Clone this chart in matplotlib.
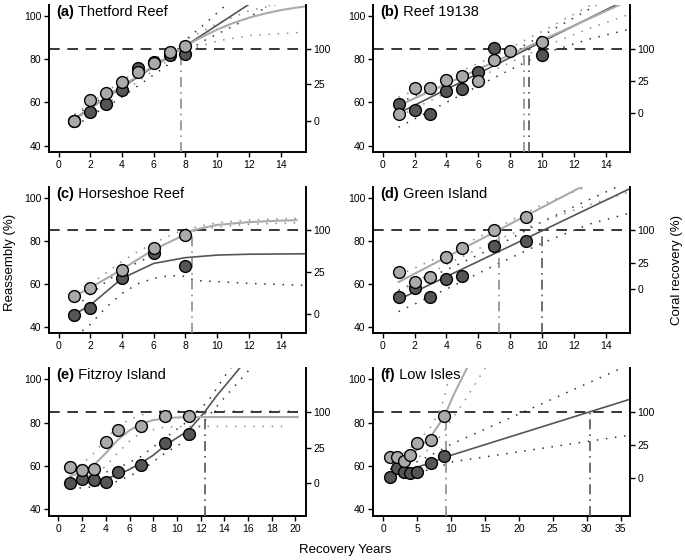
import matplotlib
matplotlib.use('Agg')
import matplotlib.pyplot as plt

plt.rcParams['font.family'] = ['Liberation Sans', 'DejaVu Sans']

DARK = '#555555'
LIGHT = '#aaaaaa'
threshold = 85          # reassembly level matching 100 % coral recovery
right_labels = ['0', '25', '100']

# (a) Thetford Reef
a_years = [1, 2, 3, 4, 5, 6, 7, 8]
a_dark = [51.5, 55.7, 59.4, 65.7, 76.0, 78.8, 81.9, 82.3]
a_light = [51.5, 61.1, 64.6, 69.4, 74.0, 78.5, 83.4, 86.1]
a_dark_fit_x = [1, 12]
a_dark_fit_y = [52.5, 105.5]
a_light_fit_x = [1, 4, 7.7, 9, 10, 11, 12, 13, 14, 15, 15.6]
a_light_fit_y = [52, 67.5, 85, 90.2, 93.8, 96.8, 99.3, 101.2, 102.8, 104, 104.6]
a_dark_up_x = [1, 4, 7, 9, 10.6]
a_dark_up_y = [54, 67.5, 83, 95, 105.5]
a_dark_lo_x = [1, 4, 7, 9, 11.3, 13.3]
a_dark_lo_y = [49, 62.5, 78, 88, 96.5, 105]
a_light_up_x = [1, 4, 7, 8, 10, 12, 13.8]
a_light_up_y = [54.5, 70, 84.5, 89, 96.5, 102.5, 105.5]
a_light_lo_x = [1, 4, 7, 8, 10, 12, 15.5]
a_light_lo_y = [48.5, 64.5, 80, 84, 88.5, 91, 92.6]
a_cross = [7.72, None]          # (light, dark) crossing years
a_right = [51.5, 68.5, 85]

# (b) Reef 19138
b_years_light = [1, 2, 3, 4, 5, 6, 7, 8, 10]
b_light = [54.6, 66.5, 66.8, 70.3, 72.2, 69.9, 79.5, 83.7, 88.2]
b_years_dark = [1, 2, 3, 4, 5, 6, 7, 10]
b_dark = [59.2, 56.4, 54.6, 65.4, 66.0, 74.2, 85.2, 81.9]
b_dark_fit_x = [1, 15.5]
b_dark_fit_y = [55, 108.5]
b_light_fit_x = [1, 15.5]
b_light_fit_y = [58.5, 107.5]
b_dark_up_x = [1, 4, 7, 10, 13, 13.4]
b_dark_up_y = [60, 68.5, 79, 91, 103.5, 105]
b_dark_lo_x = [1, 4, 7, 10, 13, 15.5]
b_dark_lo_y = [48.5, 60, 71.5, 82.5, 89.5, 94]
b_light_up_x = [1, 4, 7, 10, 12.5, 13]
b_light_up_y = [62.5, 71.5, 81.5, 93, 103, 105]
b_light_lo_x = [1, 4, 7, 10, 13, 15.5]
b_light_lo_y = [53.5, 64.5, 75, 85.5, 94.5, 101]
b_cross = [8.85, 9.2]
b_right = [55, 69.9, 85]

# (c) Horseshoe Reef
c_years = [1, 2, 4, 6, 8]
c_light = [54.2, 58.2, 66.6, 76.6, 82.6]
c_dark = [45.6, 48.6, 62.7, 74.2, 68.4]
c_dark_fit_x = [1, 2, 4, 6, 8, 10, 12, 15.6]
c_dark_fit_y = [45.7, 50, 62.5, 69.5, 72.2, 73.4, 73.8, 74]
c_light_fit_x = [1, 2, 4, 6, 8, 8.44, 10, 12, 14, 15]
c_light_fit_y = [54.2, 58.1, 66.7, 76, 83, 85, 87.5, 88.8, 89.5, 89.7]
c_dark_up_x = [1.5, 3, 4, 5, 6.2]
c_dark_up_y = [52, 61, 66, 70, 74]
c_dark_lo_x = [1.5, 2, 3, 4, 5, 6, 7, 8, 8.6, 10, 12, 15.6]
c_dark_lo_y = [38, 41, 49, 55.5, 60, 62.5, 63.8, 63.5, 61.5, 61, 60.2, 59.2]
c_light_up_x = [2, 3, 4, 5, 6, 7, 8, 10, 12, 14, 15.3]
c_light_up_y = [60, 65, 70.5, 75, 79, 82.5, 85.5, 88.5, 89.8, 90.4, 90.5]
c_light_lo_x = [8.5, 10, 12, 14, 15.3]
c_light_lo_y = [84.5, 86.5, 87.8, 88.3, 88.5]
c_cross = [8.44, None]
c_right = [45.9, 65.4, 85]

# (d) Green Island
d_years = [1, 2, 3, 4, 5, 7, 9]
d_light = [65.7, 60.6, 63.1, 72.5, 76.7, 84.9, 91.4]
d_dark = [53.8, 58.0, 53.6, 62.2, 63.4, 77.7, 80.1]
d_dark_fit_x = [1, 15.6]
d_dark_fit_y = [52.6, 104.8]
d_light_fit_x = [1, 12.5]
d_light_fit_y = [60.8, 105.4]
d_dark_up_x = [1, 4, 7, 10, 13, 15.5]
d_dark_up_y = [57, 66.5, 77, 89, 99.5, 108]
d_dark_lo_x = [1, 4, 7, 10, 13, 15.5]
d_dark_lo_y = [47, 57.5, 68.5, 79, 88, 93]
d_light_up_x = [1, 4, 7, 10, 12.8]
d_light_up_y = [64, 74, 85.5, 97, 105.5]
d_light_lo_x = [1, 4, 7, 10, 13, 15.5]
d_light_lo_y = [56.5, 69, 80, 89, 97, 103]
d_cross = [7.27, 10.0]
d_right = [57.5, 69.5, 85]

# (e) Fitzroy Island
e_years = [1, 2, 3, 4, 5, 7, 9, 11]
e_light = [59.4, 58.3, 58.6, 71.0, 76.4, 78.5, 82.9, 82.9]
e_dark = [52.4, 54.0, 53.6, 52.7, 57.1, 60.5, 70.7, 74.9]
e_dark_fit_x = [1, 2, 3, 4, 5, 6, 7, 8, 9, 10, 11, 12.35, 13.4, 14.6, 15.5]
e_dark_fit_y = [52.3, 52.5, 53, 54.2, 56, 58.5, 61.5, 65, 69.5, 73, 76.5, 85, 92.7, 100.5, 106.5]
e_light_fit_x = [1, 2, 3, 4, 5, 6, 7, 8, 9, 10, 11, 12, 20.2]
e_light_fit_y = [55.5, 57, 60.5, 66, 72, 76.5, 79.5, 81.2, 82, 82.4, 82.5, 82.6, 82.6]
e_dark_up_x = [1, 3, 5, 7, 9, 11, 12.7, 14.4, 14.6]
e_dark_up_y = [55, 55.5, 59, 64.5, 73, 81, 90.4, 104.3, 105.5]
e_dark_lo_x = [1, 3, 5, 7, 9, 11, 13.7, 16.3]
e_dark_lo_y = [49.5, 50.5, 53, 58, 66, 72.5, 89.6, 105.5]
e_light_up_x = [1, 2, 3, 4, 5, 6, 8, 20.2]
e_light_up_y = [58.5, 61, 66, 72.5, 78, 81.5, 85.4, 85.4]
e_light_lo_x = [1, 2, 3, 4, 5, 6, 7, 9, 11, 19.5]
e_light_lo_y = [52.5, 53.5, 55.5, 60, 66, 71.5, 75.5, 78, 78.3, 78.3]
e_cross = [None, 12.35]
e_right = [52.4, 68.4, 85]

# (f) Low Isles
f_years = [1, 2, 3, 4, 5, 7, 9]
f_light = [64.3, 64.0, 62.5, 65.1, 70.5, 72.1, 83.1]
f_dark = [55.2, 58.9, 57.1, 56.8, 57.4, 61.3, 64.5]
f_dark_fit_x = [1, 3, 5, 7, 9, 36.4]
f_dark_fit_y = [56.5, 57.8, 59.5, 61.5, 64, 90.8]
f_light_fit_x = [1, 3, 5, 7, 9, 9.3, 10.5, 12.5]
f_light_fit_y = [63, 63.8, 67.5, 73.5, 82.8, 85, 93.5, 106]
f_dark_up_x = [1, 3, 5, 7, 9, 10, 35.7]
f_dark_up_y = [58.5, 60, 62, 65, 68.3, 70, 105.9]
f_dark_lo_x = [1, 3, 5, 7, 9, 9.6, 36]
f_dark_lo_y = [54.5, 55.5, 57, 58.5, 60.5, 61.7, 74.1]
f_light_up_x = [3, 5, 7, 8, 9, 10]
f_light_up_y = [66, 71, 78, 83.5, 91, 105]
f_light_lo_x = [3, 5, 7, 9, 10, 12, 15.2]
f_light_lo_y = [60, 63.5, 68.5, 76, 81, 90, 106]
f_cross = [9.3, 30.5]
f_right = [54.7, 69.8, 85]

panels = [
    ('(a)', 'Thetford Reef', a_years, a_dark, a_years, a_light,
     (a_dark_fit_x, a_dark_fit_y), (a_light_fit_x, a_light_fit_y),
     [(a_dark_up_x, a_dark_up_y), (a_dark_lo_x, a_dark_lo_y)],
     [(a_light_up_x, a_light_up_y), (a_light_lo_x, a_light_lo_y)],
     a_cross, a_right, (-0.6, 15.6), range(0, 15, 2)),
    ('(b)', 'Reef 19138', b_years_dark, b_dark, b_years_light, b_light,
     (b_dark_fit_x, b_dark_fit_y), (b_light_fit_x, b_light_fit_y),
     [(b_dark_up_x, b_dark_up_y), (b_dark_lo_x, b_dark_lo_y)],
     [(b_light_up_x, b_light_up_y), (b_light_lo_x, b_light_lo_y)],
     b_cross, b_right, (-0.6, 15.5), range(0, 15, 2)),
    ('(c)', 'Horseshoe Reef', c_years, c_dark, c_years, c_light,
     (c_dark_fit_x, c_dark_fit_y), (c_light_fit_x, c_light_fit_y),
     [(c_dark_up_x, c_dark_up_y), (c_dark_lo_x, c_dark_lo_y)],
     [(c_light_up_x, c_light_up_y), (c_light_lo_x, c_light_lo_y)],
     c_cross, c_right, (-0.6, 15.6), range(0, 15, 2)),
    ('(d)', 'Green Island', d_years, d_dark, d_years, d_light,
     (d_dark_fit_x, d_dark_fit_y), (d_light_fit_x, d_light_fit_y),
     [(d_dark_up_x, d_dark_up_y), (d_dark_lo_x, d_dark_lo_y)],
     [(d_light_up_x, d_light_up_y), (d_light_lo_x, d_light_lo_y)],
     d_cross, d_right, (-0.6, 15.5), range(0, 15, 2)),
    ('(e)', 'Fitzroy Island', e_years, e_dark, e_years, e_light,
     (e_dark_fit_x, e_dark_fit_y), (e_light_fit_x, e_light_fit_y),
     [(e_dark_up_x, e_dark_up_y), (e_dark_lo_x, e_dark_lo_y)],
     [(e_light_up_x, e_light_up_y), (e_light_lo_x, e_light_lo_y)],
     e_cross, e_right, (-0.8, 20.9), range(0, 21, 2)),
    ('(f)', 'Low Isles', f_years, f_dark, f_years, f_light,
     (f_dark_fit_x, f_dark_fit_y), (f_light_fit_x, f_light_fit_y),
     [(f_dark_up_x, f_dark_up_y), (f_dark_lo_x, f_dark_lo_y)],
     [(f_light_up_x, f_light_up_y), (f_light_lo_x, f_light_lo_y)],
     f_cross, f_right, (-1.5, 36.4), range(0, 36, 5)),
]

W, H = 685, 560
col_left = [49, 373]
col_width = 257
row_top = [5, 187, 368]
row_height = [147, 146, 148]
YLIM = (37, 105.2)

fig = plt.figure(figsize=(W / 100, H / 100), dpi=100)

for i, p in enumerate(panels):
    (tag, name, xd, yd, xl, yl, dfit, lfit, dbands, lbands,
     cross, right_pos, xlim, xticks) = p
    r, c = divmod(i, 2)
    rect = [col_left[c] / W, 1 - (row_top[r] + row_height[r]) / H,
            col_width / W, row_height[r] / H]
    ax = fig.add_axes(rect)
    ax.set_xlim(xlim)
    ax.set_ylim(YLIM)

    # confidence bands
    for bx, by in dbands:
        ax.plot(bx, by, color='#333333', lw=1.1, ls=(0, (1, 5)), zorder=2)
    for bx, by in lbands:
        ax.plot(bx, by, color='#8c8c8c', lw=1.1, ls=(0, (1, 5)), zorder=2)

    ax.axhline(threshold, color='black', lw=1.1, dashes=(7, 5), zorder=3)
    if cross[0] is not None:
        ax.vlines(cross[0], YLIM[0], threshold, color='#8c8c8c', lw=1.2,
                  linestyles=[(0, (6, 3, 1, 3))], zorder=3)
    if cross[1] is not None:
        ax.vlines(cross[1], YLIM[0], threshold, color='#555555', lw=1.2,
                  linestyles=[(0, (6, 3, 1, 3))], zorder=3)

    ax.plot(dfit[0], dfit[1], color=DARK, lw=1.2, zorder=4)
    ax.plot(lfit[0], lfit[1], color=LIGHT, lw=1.5, zorder=4)

    ax.plot(xd, yd, 'o', ms=8.5, mfc=DARK, mec='black', mew=1.0, zorder=5)
    ax.plot(xl, yl, 'o', ms=8.5, mfc=LIGHT, mec='black', mew=1.0, zorder=6)

    ax.set_xticks(list(xticks))
    ax.set_yticks([40, 60, 80, 100])
    ax.tick_params(labelsize=7.5, length=3.5, width=1, pad=2)
    ax.spines['top'].set_visible(False)
    ax.spines['right'].set_visible(False)
    for s in ['left', 'bottom']:
        ax.spines[s].set_linewidth(1.4)

    ax2 = ax.twinx()
    ax2.set_ylim(YLIM)
    ax2.set_yticks(right_pos)
    ax2.set_yticklabels(right_labels)
    ax2.tick_params(labelsize=7.5, length=3.5, width=1, pad=2)
    ax2.spines['top'].set_visible(False)
    ax2.spines['left'].set_visible(False)
    ax2.spines['bottom'].set_visible(False)
    ax2.spines['right'].set_linewidth(1.4)

    t1 = ax.text(0.028, 0.998, tag, transform=ax.transAxes, fontsize=10.5,
                 fontweight='bold', va='top', ha='left', zorder=7)
    ax.annotate(' ' + name, xy=(1, 1), xycoords=t1, va='top', ha='left',
                fontsize=10.5, zorder=7)

fig.text(0.015, 0.532, 'Reassembly (%)', rotation=90, ha='center',
         va='center', fontsize=9.5)
fig.text(0.988, 0.518, 'Coral recovery (%)', rotation=90, ha='center',
         va='center', fontsize=9.5)
fig.text(0.504, 0.018, 'Recovery Years', ha='center', va='center',
         fontsize=9.5)

fig.savefig('out.png', dpi=100)
